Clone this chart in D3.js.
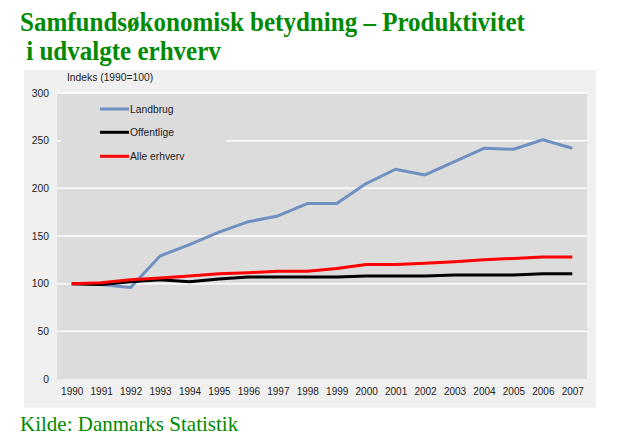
<!DOCTYPE html>
<html><head><meta charset="utf-8">
<script src="https://cdn.jsdelivr.net/npm/d3@7"></script>
<style>body{margin:0;background:#fff;}svg{display:block;}</style>
</head><body>
<svg id="c" width="621" height="448"></svg>
<script>
const years = ["1990","1991","1992","1993","1994","1995","1996","1997","1998","1999","2000","2001","2002","2003","2004","2005","2006","2007"];
const landbrug   = [100, 99, 96, 129, 141, 154, 165, 171, 184, 184, 205, 220, 214, 228, 242, 241, 251, 242];
const offentlige = [100, 99, 102, 104, 102, 105, 107, 107, 107, 107, 108, 108, 108, 109, 109, 109, 110.5, 110.5];
const alleErhverv= [100, 101, 104, 106, 108, 110.5, 111.5, 113, 113, 116, 120, 120, 121.5, 123, 125, 126.5, 128, 128];
const yTicks = [0, 50, 100, 150, 200, 250, 300];
const seriesNames = ["Landbrug", "Offentlige", "Alle erhverv"];
const seriesColors = ["#7090c2", "#000000", "#ff0000"];
const seriesData = [landbrug, offentlige, alleErhverv];

const svg = d3.select("#c");
const green = "#008a00";
const sans = "Liberation Sans, Arial, sans-serif";
const serif = "Liberation Serif, Times New Roman, serif";

// title (slightly condensed, like the original)
const tg = svg.append("g").attr("transform", "translate(20,0) scale(0.91,1)");
tg.append("text").attr("x", 0).attr("y", 31.5)
  .attr("font-family", serif).attr("font-weight", "bold")
  .attr("font-size", 27.5).attr("fill", green)
  .text("Samfundsøkonomisk betydning – Produktivitet");
tg.append("text").attr("x", 0).attr("y", 60.5)
  .attr("font-family", serif).attr("font-weight", "bold")
  .attr("font-size", 27.5).attr("fill", green)
  .text("\u00a0i udvalgte erhverv");

// panel
svg.append("rect").attr("x", 24).attr("y", 70).attr("width", 572).attr("height", 337.5).attr("fill", "#f0f0f0");

const plot = {l: 57, r: 587, t: 93, b: 379};
const x = d3.scalePoint().domain(years).range([plot.l, plot.r]).padding(0.5);
const y = d3.scaleLinear().domain([0, 300]).range([plot.b, plot.t]);

svg.append("rect").attr("x", plot.l).attr("y", plot.t).attr("width", plot.r - plot.l).attr("height", plot.b - plot.t).attr("fill", "#dcdcdc");

// gridlines
svg.append("g").selectAll("line").data(yTicks.filter(d => d > 0)).join("line")
  .attr("x1", plot.l).attr("x2", plot.r)
  .attr("y1", d => y(d)).attr("y2", d => y(d))
  .attr("stroke", "#ffffff").attr("stroke-width", 1.5);

// y axis
const yAxis = svg.append("g").attr("transform", `translate(${plot.l - 8},0)`)
  .call(d3.axisLeft(y).tickValues(yTicks).tickSize(0).tickPadding(0));
yAxis.select(".domain").remove();
yAxis.selectAll("text").attr("font-family", sans).attr("font-size", 10.3).attr("fill", "#222");

// x axis
const xAxis = svg.append("g").attr("transform", `translate(0,${plot.b})`)
  .call(d3.axisBottom(x).tickSize(0).tickPadding(9));
xAxis.select(".domain").remove();
xAxis.selectAll("text").attr("font-family", sans).attr("font-size", 10).attr("fill", "#222");

// axis title
svg.append("text").attr("x", 67).attr("y", 80.5)
  .attr("font-family", sans).attr("font-size", 10.3).attr("fill", "#222")
  .text("Indeks (1990=100)");

// legend box (covers gridline)
svg.append("rect").attr("x", 61).attr("y", 97).attr("width", 165).attr("height", 72).attr("fill", "#dcdcdc");

// lines
const line = d3.line().x((d, i) => x(years[i])).y(d => y(d));
svg.append("g").selectAll("path").data(seriesData).join("path")
  .attr("d", d => line(d)).attr("fill", "none")
  .attr("stroke", (d, i) => seriesColors[i]).attr("stroke-width", 3)
  .attr("stroke-linejoin", "round");

// legend
const lg = svg.append("g");
const ly = [109, 132.3, 156.3];
seriesNames.forEach((n, i) => {
  lg.append("line").attr("x1", 100).attr("x2", 129).attr("y1", ly[i]).attr("y2", ly[i])
    .attr("stroke", seriesColors[i]).attr("stroke-width", 3);
  lg.append("text").attr("x", 130).attr("y", ly[i]).attr("dy", "0.35em")
    .attr("font-family", sans).attr("font-size", 10.3).attr("fill", "#222")
    .text(n);
});

// source
svg.append("text").attr("x", 20).attr("y", 431)
  .attr("font-family", serif)
  .attr("font-size", 21).attr("fill", green)
  .text("Kilde: Danmarks Statistik");
</script>
</body></html>
